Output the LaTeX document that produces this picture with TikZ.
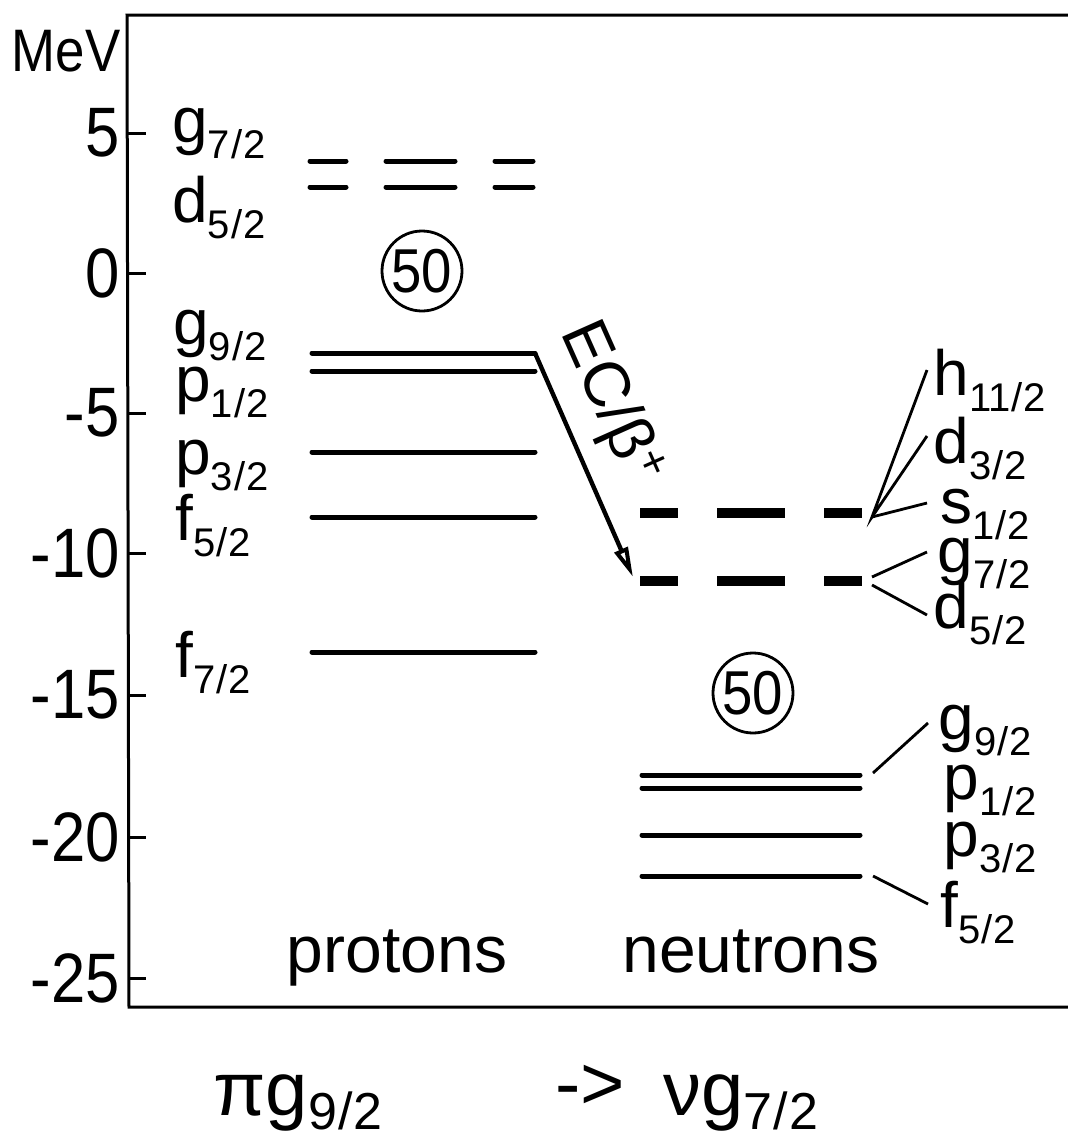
\documentclass[tikz,border=0pt]{standalone}
\usepackage{fontspec}
\setmainfont{Liberation Sans}
\newfontfamily\narrowfont[FakeStretch=0.88]{Liberation Sans}
\usetikzlibrary{arrows.meta}
\newcommand\sj[1]{\raisebox{-8pt}{\fontsize{20}{20}\selectfont #1}}
\newcommand\fr[2]{#1\kern0.5pt/\kern0.5pt#2}
\begin{document}
\begin{tikzpicture}[x=0.5pt,y=-0.5pt,
  axisline/.style={line width=1.5pt},
  lev/.style={line width=2.5pt,line cap=round},
  nlev/.style={line width=5pt,line cap=butt},
  fan/.style={line width=1.4pt},
  ticklab/.style={font=\narrowfont\fontsize{35}{35}\selectfont,anchor=east,inner sep=0pt},
  lab/.style={font=\fontsize{32}{32}\selectfont,anchor=base west,inner sep=0pt},
  magic/.style={circle,draw,line width=1.4pt,minimum size=40pt,inner sep=0pt,font=\narrowfont\fontsize{31}{31}\selectfont},
  arr/.style={line width=2.2pt,-{Triangle[open,length=15pt,width=7pt,line width=2pt]}}
]
\useasboundingbox (0,0) rectangle (1068,1141);
% axes
\coordinate (tr) at (1068,15);
\coordinate (tl) at (127,15);
\coordinate (bl) at (129,1007);
\coordinate (br) at (1068,1007);
\draw[axisline] (tr) -- (tl) -- (bl) -- (br);
\node[font=\narrowfont\fontsize{30}{30}\selectfont,inner sep=0pt] (mev) at (66,51) {MeV};
\foreach \v/\y [count=\i] in {5/133,0/273,-5/413,-10/553,-15/695,-20/837,-25/978}{
  \coordinate (ta\i) at (128,\y);
  \coordinate (tb\i) at (146,\y);
  \draw[axisline] (ta\i) -- (tb\i);
  \node[ticklab] (tick\i) at (120,\y) {\v};
}
% proton levels
\foreach \y in {161,187}{
  \draw[lev] (310,\y) -- (346,\y);
  \draw[lev] (386,\y) -- (455,\y);
  \draw[lev] (495,\y) -- (533,\y);
}
\coordinate (pg9s) at (312,353);
\coordinate (pg9e) at (535,353);
\draw[lev] (pg9s) -- (pg9e);
\foreach \y in {371,452,517,652}{
  \draw[lev] (312,\y) -- (535,\y);
}
\node[magic] (m50p) at (422,271) {50};
% proton labels
\node[lab] (pl1) at (172,142) {g\sj{\fr72}};
\node[lab] (pl2) at (172,222) {d\sj{\fr52}};
\node[lab] (pl3) at (173,344) {g\sj{\fr92}};
\node[lab] (pl4) at (175,401) {p\sj{\fr12}};
\node[lab] (pl5) at (175,474) {p\sj{\fr32}};
\node[lab] (pl6) at (175,540) {f\sj{\fr52}};
\node[lab] (pl7) at (175,677) {f\sj{\fr72}};
% neutron levels
\foreach \y in {513,581}{
  \draw[nlev] (640,\y) -- (678,\y);
  \draw[nlev] (717,\y) -- (785,\y);
  \draw[nlev] (824,\y) -- (862,\y);
}
\foreach \y in {775,788,835,876}{
  \draw[lev] (642,\y) -- (860,\y);
}
\node[magic] (m50n) at (753,693) {50};
% transition arrow
\coordinate (ntarget) at (633,577);
\draw[arr] (pg9e) -- (ntarget);
\node[font=\fontsize{32}{32}\selectfont,rotate=-66,inner sep=0pt] (ec) at (610,404) {EC/β\textsuperscript{+}};
% neutron labels
\node[lab] (nl1) at (933,395) {h\sj{\fr{11}2}};
\node[lab] (nl2) at (933,463) {d\sj{\fr32}};
\node[lab] (nl3) at (940,523) {s\sj{\fr12}};
\node[lab] (nl4) at (937,572) {g\sj{\fr72}};
\node[lab] (nl5) at (933,628) {d\sj{\fr52}};
\node[lab] (nl6) at (938,739) {g\sj{\fr92}};
\node[lab] (nl7) at (943,799) {p\sj{\fr12}};
\node[lab] (nl8) at (943,856) {p\sj{\fr32}};
\node[lab] (nl9) at (940,927) {f\sj{\fr52}};
% fan connectors
\coordinate (va) at (872,517);
\coordinate (fa1) at (927,370);
\coordinate (fa2) at (927,436);
\coordinate (fa3) at (927,503);
\draw[fan] (fa1) -- (va) -- (fa2);
\draw[fan] (va) -- (fa3);
\coordinate (vb1) at (872,577);
\coordinate (vb2) at (872,585);
\coordinate (fb1) at (927,552);
\coordinate (fb2) at (927,615);
\draw[fan] (vb1) -- (fb1);
\draw[fan] (vb2) -- (fb2);
\coordinate (vc1) at (873,773);
\coordinate (fc1) at (928,723);
\coordinate (vc2) at (873,876);
\coordinate (fc2) at (928,904);
\draw[fan] (vc1) -- (fc1);
\draw[fan] (vc2) -- (fc2);
% group names
\node[font=\fontsize{33}{33}\selectfont,anchor=base,inner sep=0pt] (prot) at (397,972) {protons};
\node[font=\fontsize{33}{33}\selectfont,anchor=base,inner sep=0pt] (neut) at (751,972) {neutrons};
% bottom formula
\node[font=\fontsize{38}{38}\selectfont,anchor=base west,inner sep=0pt] (piform) at (213,1115) {πg\raisebox{-7pt}{\fontsize{26}{26}\selectfont\fr92}};
\node[font=\fontsize{38}{38}\selectfont,inner sep=0pt] (arrowtxt) at (590,1087) {->};
\node[font=\fontsize{38}{38}\selectfont,anchor=base west,inner sep=0pt] (nuform) at (663,1115) {νg\raisebox{-7pt}{\fontsize{26}{26}\selectfont\fr72}};
\end{tikzpicture}
\end{document}
